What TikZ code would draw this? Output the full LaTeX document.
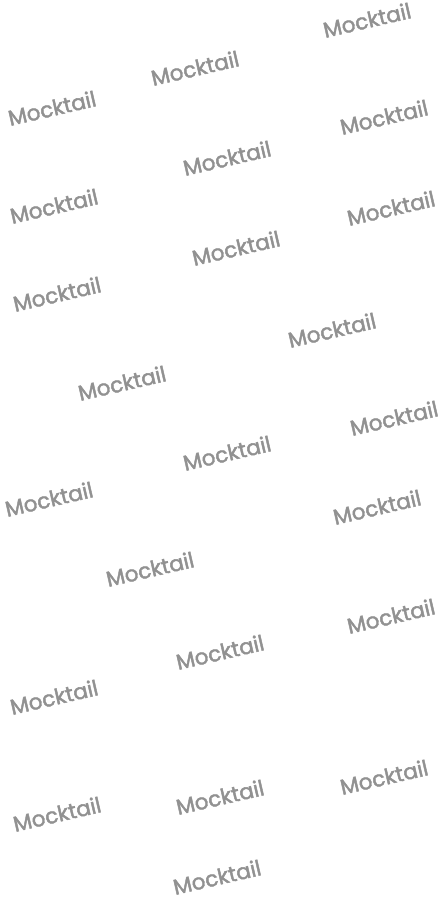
\documentclass[tikz,border=0pt]{standalone}
\usepackage{fontspec}
\setmainfont{Poppins}
\newfontfamily\wmfont{Poppins}[FakeBold=2]
\usepackage{tikz}

\definecolor{wmgray}{RGB}{145,145,145}
\tikzset{
    wmtext/.style={text=wmgray, font=\wmfont\fontsize{21.5}{25}\selectfont, rotate=13, inner sep=0pt}
}

\begin{document}
\begin{tikzpicture}[x=1pt, y=-1pt]
                \useasboundingbox (0, 0) rectangle (443, 897);

                \node[wmtext] (w1) at (367, 20) {Mocktail};
                \node[wmtext] (w2) at (195, 68) {Mocktail};
                \node[wmtext] (w3) at (52, 108) {Mocktail};
                \node[wmtext] (w4) at (384, 117) {Mocktail};
                \node[wmtext] (w5) at (227, 158) {Mocktail};
                \node[wmtext] (w6) at (54, 206) {Mocktail};
                \node[wmtext] (w7) at (391, 208) {Mocktail};

                \node[wmtext] (w8) at (236, 248) {Mocktail};
                \node[wmtext] (w9) at (57, 294) {Mocktail};
                \node[wmtext] (w10) at (332, 330) {Mocktail};
                \node[wmtext] (w11) at (122, 383) {Mocktail};
                \node[wmtext] (w12) at (394, 418) {Mocktail};
                \node[wmtext] (w13) at (227, 453) {Mocktail};

                \node[wmtext] (w14) at (49, 499) {Mocktail};
                \node[wmtext] (w15) at (377, 507) {Mocktail};
                \node[wmtext] (w16) at (150, 569) {Mocktail};
                \node[wmtext] (w17) at (391, 616) {Mocktail};
                \node[wmtext] (w18) at (220, 652) {Mocktail};

                \node[wmtext] (w19) at (54, 697) {Mocktail};
                \node[wmtext] (w20) at (384, 777) {Mocktail};
                \node[wmtext] (w21) at (220, 797) {Mocktail};
                \node[wmtext] (w22) at (57, 814) {Mocktail};
                \node[wmtext] (w23) at (217, 877) {Mocktail};
            \end{tikzpicture}
\end{document}
